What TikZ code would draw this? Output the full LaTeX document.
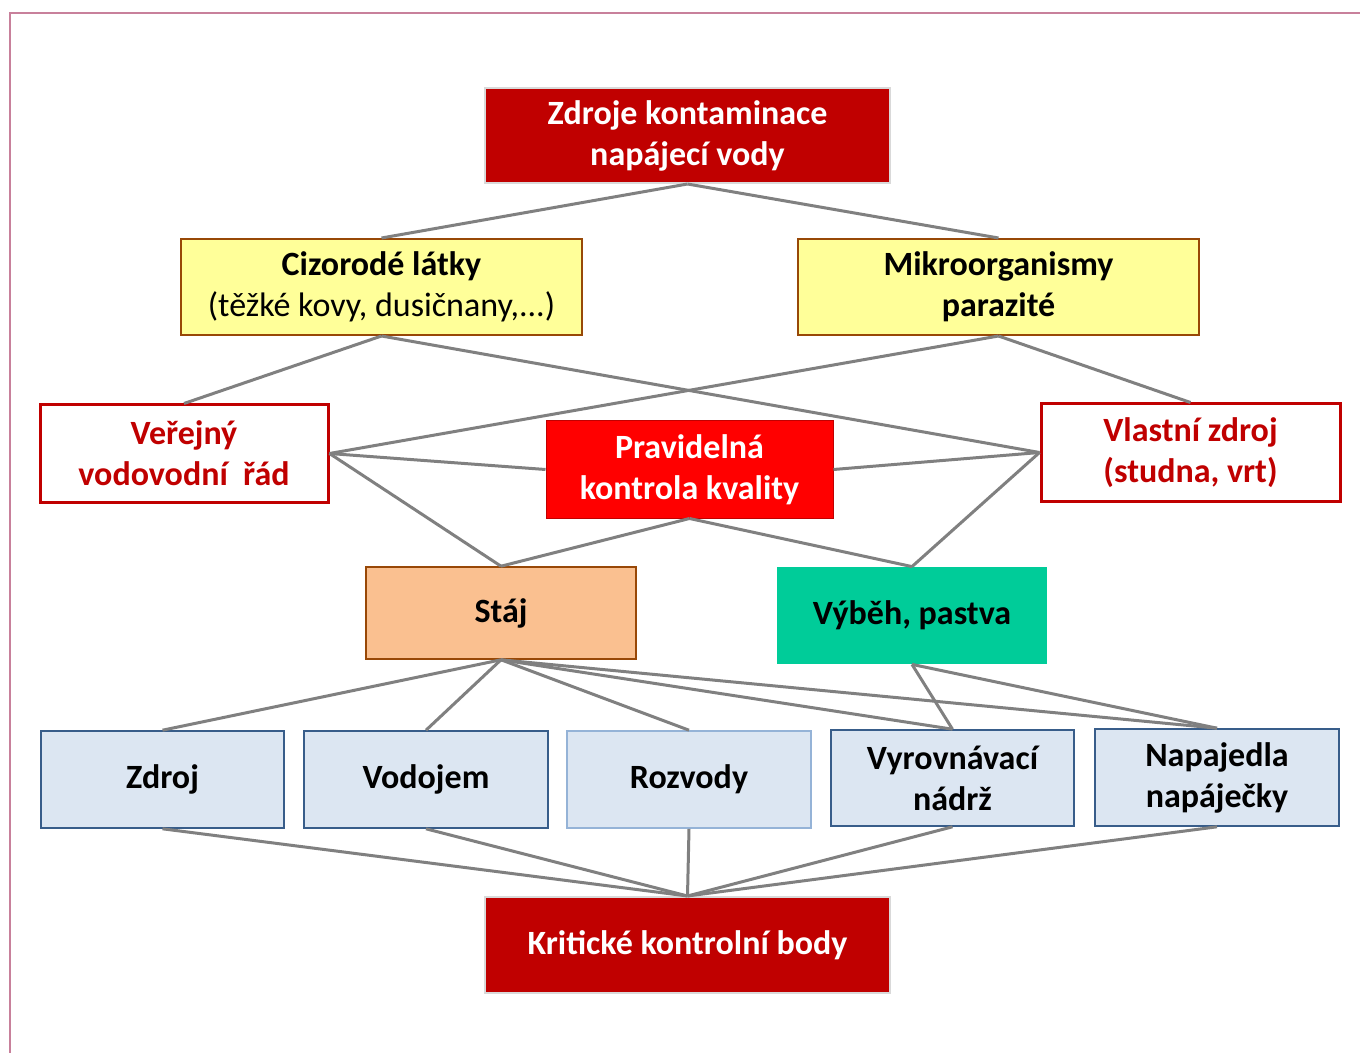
\documentclass[tikz,border=0pt]{standalone}
\usepackage{fontspec}
\setmainfont{Carlito}
\definecolor{darkred}{RGB}{192,0,0}
\definecolor{brightred}{RGB}{255,0,0}
\definecolor{paleyellow}{RGB}{255,255,153}
\definecolor{brownborder}{RGB}{152,72,7}
\definecolor{peach}{RGB}{250,192,144}
\definecolor{teal}{RGB}{0,204,153}
\definecolor{paleblue}{RGB}{220,230,242}
\definecolor{blueborder}{RGB}{56,93,138}
\definecolor{lightblueborder}{RGB}{149,179,215}
\definecolor{linegray}{RGB}{128,128,128}
\definecolor{pinkline}{RGB}{200,128,155}
\definecolor{lightgrayborder}{RGB}{217,217,217}
\tikzset{
  sz/.style 2 args={minimum width=#1*0.5pt, minimum height=#2*0.5pt},
  box/.style={rectangle, inner sep=0pt, align=center, font=\fontsize{17}{20.5}\selectfont},
  darkredbox/.style={box, fill=darkred, draw=lightgrayborder, line width=1pt, text=white, font=\fontsize{17}{20.5}\selectfont\bfseries},
  yellowbox/.style={box, fill=paleyellow, draw=brownborder, line width=1pt, text=black},
  outlinebox/.style={box, fill=white, draw=darkred, line width=1.5pt, text=darkred, font=\fontsize{17}{20.5}\selectfont\bfseries},
  redbox/.style={box, fill=brightred, draw=darkred, line width=0.5pt, text=white, font=\fontsize{17}{20.5}\selectfont\bfseries},
  bluebox/.style={box, fill=paleblue, draw=blueborder, line width=0.8pt, text=black, font=\fontsize{17}{20.5}\selectfont\bfseries},
  conn/.style={draw=linegray, line width=1.5pt},
}
\begin{document}
\begin{tikzpicture}[x=0.5pt, y=-0.5pt]
\useasboundingbox (0,0) rectangle (1360,1053);
\fill[white] (0,0) rectangle (1360,1053);
\draw[pinkline, line width=1pt] (10,1053) -- (10,13) -- (1360,13);

\node[darkredbox, sz={405}{95}] (top) at (687.5,135.5) {Zdroje kontaminace\\napájecí vody};
\node[yellowbox, sz={401}{96}] (ciz) at (381.5,287) {\textbf{Cizorodé látky}\\(těžké kovy, dusičnany,...)};
\node[yellowbox, sz={401}{96}, font=\fontsize{17}{20.5}\selectfont\bfseries] (mik) at (998.5,287) {Mikroorganismy\\parazité};
\node[outlinebox, sz={288}{97}] (ver) at (184,453.5) {Veřejný\\vodovodní\ \ řád};
\node[redbox, sz={287}{97}] (pra) at (689.5,469.5) {Pravidelná\\kontrola kvality};
\node[outlinebox, sz={299}{97}] (vla) at (1190.5,452.5) {Vlastní zdroj\\(studna, vrt)};
\node[box, sz={270}{92}, fill=peach, draw=brownborder, line width=0.8pt, font=\fontsize{17}{20.5}\selectfont\bfseries] (sta) at (501,613) {Stáj};
\node[box, sz={270}{97}, fill=teal, font=\fontsize{17}{20.5}\selectfont\bfseries] (vyb) at (912,615.5) {Výběh, pastva};
\node[bluebox, sz={243}{97}] (zdr) at (162.5,779.5) {Zdroj};
\node[bluebox, sz={244}{97}] (vod) at (426,779.5) {Vodojem};
\node[bluebox, sz={244}{97}, draw=lightblueborder] (roz) at (689,779.5) {Rozvody};
\node[bluebox, sz={243}{96}] (vyr) at (952.5,778) {Vyrovnávací\\nádrž};
\node[bluebox, sz={244}{97}] (nap) at (1217,777.5) {Napajedla\\napáječky};
\node[darkredbox, sz={405}{96}] (kri) at (687.5,945) {Kritické kontrolní body};

\draw[conn] (top.south) -- (ciz.north);
\draw[conn] (top.south) -- (mik.north);
\draw[conn] (ciz.south) -- (ver.north);
\draw[conn] (ciz.south) -- (vla.west);
\draw[conn] (mik.south) -- (vla.north);
\draw[conn] (mik.south) -- (ver.east);
\draw[conn] (ver.east) -- (pra.west);
\draw[conn] (ver.east) -- (sta.north);
\draw[conn] (vla.west) -- (pra.east);
\draw[conn] (vla.west) -- (vyb.north);
\draw[conn] (pra.south) -- (sta.north);
\draw[conn] (pra.south) -- (vyb.north);
\foreach \b in {zdr,vod,roz,vyr,nap} {
  \draw[conn] (sta.south) -- (\b.north);
  \draw[conn] (\b.south) -- (kri.north);
}
\draw[conn] (vyb.south) -- (vyr.north);
\draw[conn] (vyb.south) -- (nap.north);
\end{tikzpicture}
\end{document}
